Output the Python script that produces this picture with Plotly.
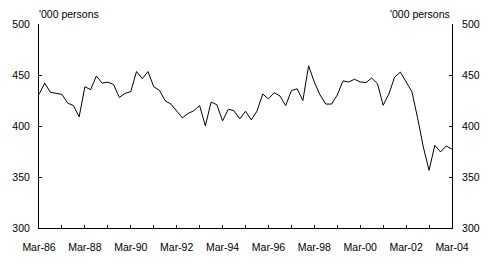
import plotly.graph_objects as go

# Quarterly values, Mar-86 to Mar-04 ('000 persons)
values = [431, 442, 433, 432, 431, 422.5, 420, 409, 438.5, 435.6,
          449, 442, 443, 440.7, 428, 432, 433.7, 453.4, 446.4, 453.4,
          438.5, 435, 424.7, 421.5, 414.5, 408, 412.3, 415, 420, 400.2,
          423.4, 420.9, 405, 416.4, 415, 406.9, 414.5, 406, 414.5, 431.4,
          426.6, 432.7, 429.5, 420, 434.6, 436.5, 425, 459, 443, 430.4,
          421.5, 421.5, 430.4, 444.2, 443.2, 445.8, 443.2, 442.6, 447, 441.6,
          420.3, 431.4, 448, 452.8, 443.2, 433.7, 408, 379.4, 356.5, 381,
          374.6, 380.4, 377.2]
quarters = list(range(len(values)))
year_labels = ["Mar-86", "", "Mar-88", "", "Mar-90", "", "Mar-92", "", "Mar-94", "",
               "Mar-96", "", "Mar-98", "", "Mar-00", "", "Mar-02", "", "Mar-04"]
year_positions = [4 * i for i in range(len(year_labels))]
y_ticks = [300, 350, 400, 450, 500]
unit_label = "'000 persons"

font = dict(family="Liberation Sans, Arial, sans-serif", size=10.5, color="black")

fig = go.Figure()
fig.add_trace(go.Scatter(x=quarters, y=values, mode="lines",
                         line=dict(color="black", width=1), showlegend=False))
# invisible copy so the right-hand axis is drawn
fig.add_trace(go.Scatter(x=quarters, y=values, mode="lines", yaxis="y2",
                         line=dict(color="rgba(0,0,0,0)", width=1),
                         hoverinfo="skip", showlegend=False))

axis_common = dict(showline=True, linecolor="black", linewidth=1, showgrid=False,
                   zeroline=False, ticks="inside", ticklen=3, tickcolor="black",
                   tickfont=font)

fig.update_layout(
    width=492, height=265,
    margin=dict(l=34, r=33, t=24, b=32),
    paper_bgcolor="white", plot_bgcolor="white",
    font=font,
    xaxis=dict(range=[0, 72], tickmode="array", tickvals=year_positions,
               ticktext=year_labels, ticklabelstandoff=9, **axis_common),
    yaxis=dict(range=[300, 500], tickmode="array", tickvals=y_ticks,
               ticklabelstandoff=6, **axis_common),
    yaxis2=dict(range=[300, 500], tickmode="array", tickvals=y_ticks, overlaying="y",
                side="right", ticklabelstandoff=7, **axis_common),
    annotations=[
        dict(text=unit_label, xref="paper", yref="paper", x=0, y=1, xanchor="left",
             yanchor="bottom", yshift=2, xshift=-2, showarrow=False, font=font),
        dict(text=unit_label, xref="paper", yref="paper", x=1, y=1, xanchor="right",
             yanchor="bottom", yshift=2, showarrow=False, font=font),
    ],
)
fig.write_html("out.html")
